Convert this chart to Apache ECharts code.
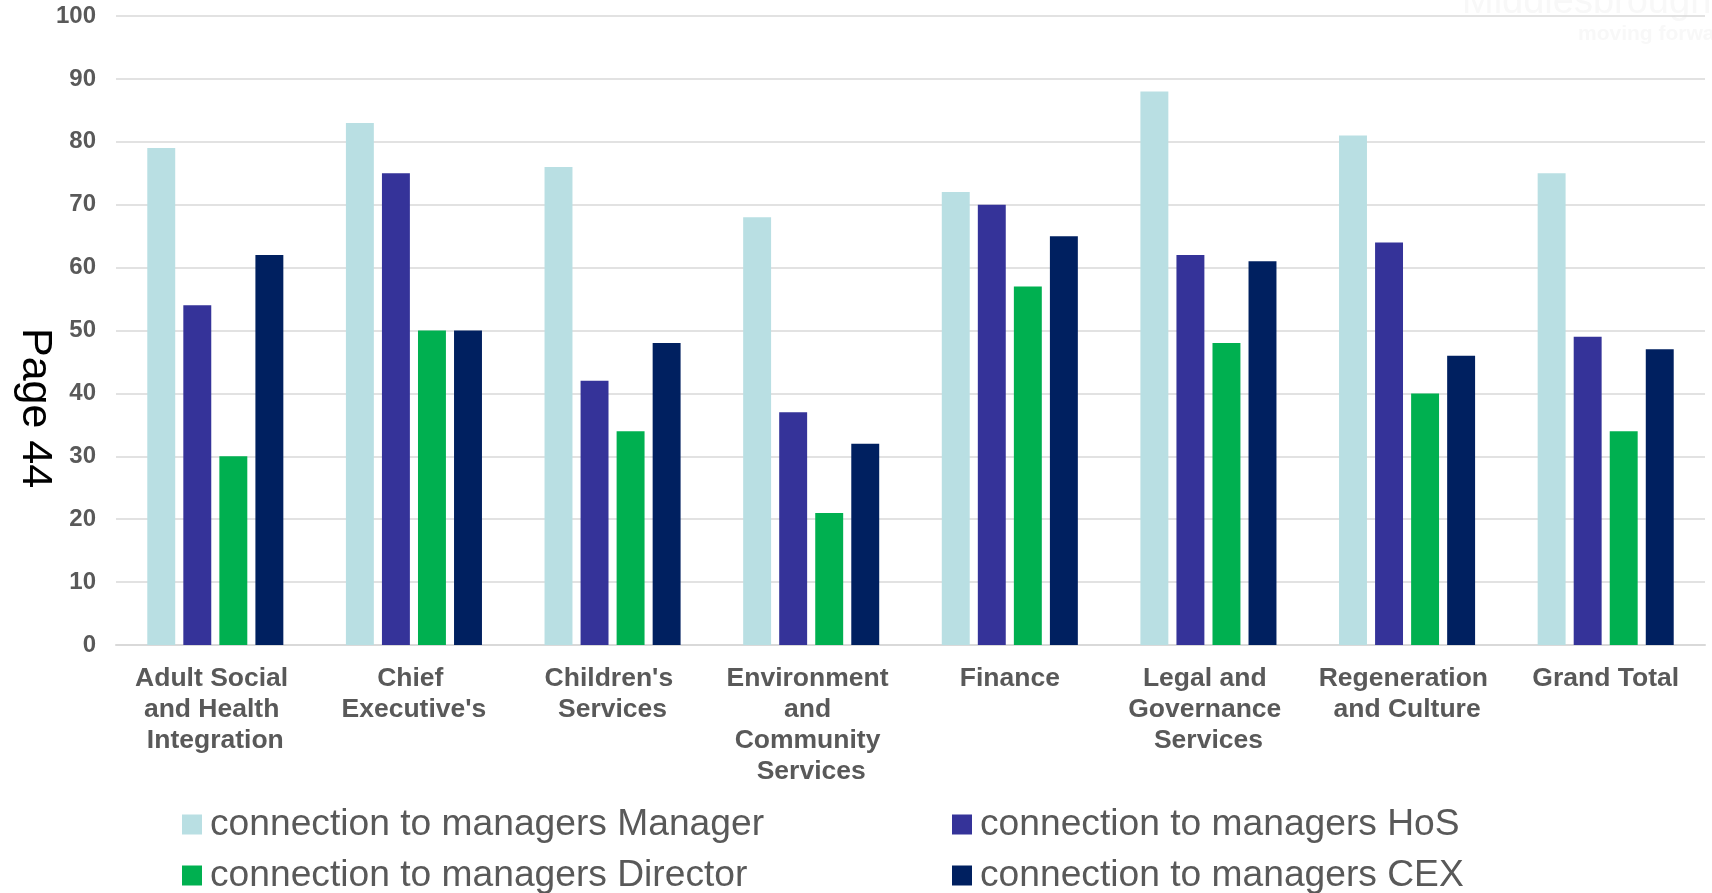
<!DOCTYPE html>
<html>
<head>
<meta charset="utf-8">
<script src="https://cdn.jsdelivr.net/npm/echarts@6/dist/echarts.min.js"></script>
<style>
html,body{margin:0;padding:0;background:#fff;}
#chart{width:1712px;height:893px;}
</style>
</head>
<body>
<div id="chart"></div>
<script>
var categories = ["Adult Social and Health Integration", "Chief Executive's", "Children's Services", "Environment and Community Services", "Finance", "Legal and Governance Services", "Regeneration and Culture", "Grand Total"];
var seriesNames = ["connection to managers Manager", "connection to managers HoS", "connection to managers Director", "connection to managers CEX"];
var managerValues = [79, 83, 76, 68, 72, 88, 81, 75];
var hosValues = [54, 75, 42, 37, 70, 62, 64, 49];
var directorValues = [30, 50, 34, 21, 57, 48, 40, 34];
var cexValues = [62, 50, 48, 32, 65, 61, 46, 47];
var yTicks = [0, 10, 20, 30, 40, 50, 60, 70, 80, 90, 100];
var sideText = "Page 44";
var watermark1 = "Middlesbrough";
var watermark2 = "moving forward";

var colors = ['#b9dfe3', '#353399', '#00b050', '#002060'];
var values = [managerValues, hosValues, directorValues, cexValues];
var font = '"Liberation Sans", Arial, sans-serif';

var chart = echarts.init(document.getElementById('chart'), null, {renderer: 'canvas'});
function legendItem(name, left, top) {
  return {
    orient: 'horizontal', left: left, top: top, padding: 0,
    itemWidth: 20, itemHeight: 20, icon: 'rect', data: [name],
    textStyle: {fontFamily: font, fontSize: 37.2, color: '#595959', lineHeight: 34, padding: [0, 0, 0, 3]}
  };
}
var option = {
  animation: false,
  backgroundColor: '#ffffff',
  grid: {left: 116, right: 7, top: 16, bottom: 248, containLabel: false},
  legend: [
    legendItem(seriesNames[0], 182, 806),
    legendItem(seriesNames[2], 182, 857),
    legendItem(seriesNames[1], 952, 806),
    legendItem(seriesNames[3], 952, 857)
  ],
  xAxis: {
    type: 'category', data: categories,
    axisLine: {show: true, lineStyle: {color: '#d9d9d9', width: 2}},
    axisTick: {show: false},
    axisLabel: {interval: 0, margin: 18, fontFamily: font, fontSize: 26.5, fontWeight: 'bold',
      color: '#595959', lineHeight: 31, width: 188, overflow: 'break', align: 'center'}
  },
  yAxis: {
    type: 'value', min: yTicks[0], max: yTicks[yTicks.length - 1], interval: yTicks[1] - yTicks[0],
    axisLine: {show: false}, axisTick: {show: false},
    splitLine: {lineStyle: {color: '#d9d9d9', width: 1.5}},
    axisLabel: {margin: 20, fontFamily: font, fontSize: 24, fontWeight: 'bold', color: '#595959'}
  },
  series: seriesNames.map(function (n, i) {
    return {
      name: n, type: 'bar', data: values[i],
      itemStyle: {color: colors[i]},
      barGap: '29%', barCategoryGap: '31.5%'
    };
  }),
  graphic: [
    {type: 'text', left: 13, top: 328, rotation: -Math.PI / 2,
      style: {text: sideText, fontFamily: font, fontSize: 43, fill: '#000000'}},
    {type: 'text', left: 1462, top: -16, silent: true,
      style: {text: watermark1, fontFamily: font, fontSize: 38, fill: '#f8f8f8'}},
    {type: 'text', left: 1578, top: 24, silent: true,
      style: {text: watermark2, fontFamily: font, fontSize: 21, fontWeight: 'bold', fill: '#f8f8f8'}}
  ]
};
chart.setOption(option);
</script>
</body>
</html>
